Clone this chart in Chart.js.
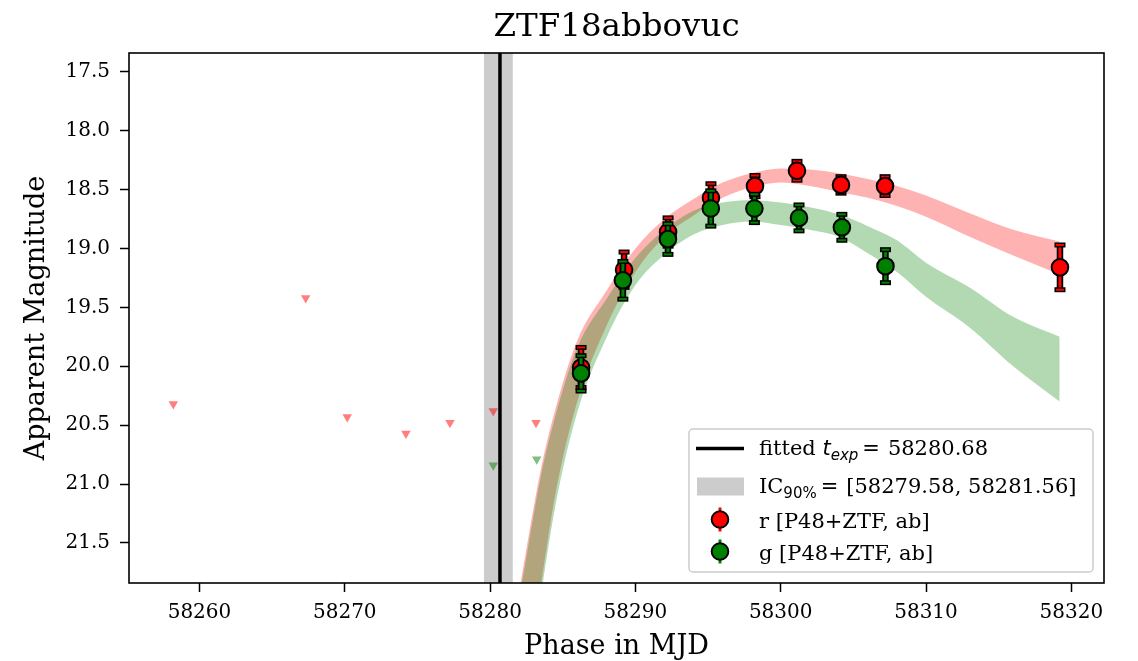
<!DOCTYPE html>
<html>
<head>
<meta charset="utf-8">
<script src="https://cdn.jsdelivr.net/npm/chart.js@4.4.1/dist/chart.umd.min.js"></script>
<style>
  html, body { margin: 0; padding: 0; background: #fff; }
  canvas { display: block; }
</style>
</head>
<body>
<canvas id="lc" width="1138" height="661"></canvas>
<script>
// axis ranges and ticks
const xRange = [58255.15, 58322.25];
const yRange = [17.34, 21.84];
const xTicks = [58260, 58270, 58280, 58290, 58300, 58310, 58320];
const yTicks = [17.5, 18.0, 18.5, 19.0, 19.5, 20.0, 20.5, 21.0, 21.5];

// explosion time fit
const tExp = 58280.68;
const tExpLow = 58279.58;
const tExpHigh = 58281.56;

// r band detections
const rTimes = [58286.26, 58289.22, 58292.25, 58295.20, 58298.23, 58301.12, 58304.15, 58307.18, 58319.22];
const rMags  = [20.01, 19.18, 18.86, 18.57, 18.47, 18.34, 18.46, 18.47, 19.16];
const rErrs  = [0.17, 0.15, 0.12, 0.12, 0.09, 0.08, 0.07, 0.08, 0.19];

// g band detections
const gTimes = [58286.26, 58289.14, 58292.24, 58295.19, 58298.19, 58301.26, 58304.21, 58307.21];
const gMags  = [20.06, 19.27, 18.92, 18.66, 18.66, 18.74, 18.82, 19.15];
const gErrs  = [0.15, 0.16, 0.13, 0.15, 0.12, 0.11, 0.11, 0.14];

// upper limits
const rLimTimes = [58258.20, 58267.31, 58270.17, 58274.21, 58277.24, 58280.22, 58283.16];
const rLimMags  = [20.32, 19.42, 20.43, 20.57, 20.48, 20.38, 20.48];
const gLimTimes = [58280.22, 58283.21];
const gLimMags  = [20.84, 20.79];

// model bands (bright edge / faint edge)
const fitTimes   = [58282.1, 58282.5, 58283.5, 58284.5, 58286, 58288, 58290, 58292, 58294, 58296, 58298, 58300, 58302, 58304, 58306, 58308, 58310, 58313, 58316, 58319.2];
const rFitBright = [21.84, 21.55, 20.87, 20.36, 19.78, 19.36, 19.00, 18.75, 18.58, 18.44, 18.36, 18.32, 18.33, 18.36, 18.41, 18.47, 18.55, 18.70, 18.84, 18.94];
const rFitFaint  = [23.00, 22.60, 21.85, 21.08, 20.30, 19.66, 19.20, 18.90, 18.72, 18.57, 18.48, 18.44, 18.47, 18.52, 18.57, 18.64, 18.73, 18.90, 19.06, 19.22];
const gFitBright = [21.90, 21.62, 20.93, 20.42, 19.84, 19.43, 19.08, 18.84, 18.68, 18.61, 18.59, 18.61, 18.65, 18.71, 18.81, 18.93, 19.12, 19.33, 19.58, 19.75];
const gFitFaint  = [23.10, 22.70, 21.94, 21.18, 20.39, 19.76, 19.31, 19.05, 18.88, 18.80, 18.77, 18.80, 18.84, 18.90, 19.04, 19.20, 19.41, 19.67, 20.00, 20.30];

const SERIF = "'DejaVu Serif', serif";
const SANS = "'DejaVu Sans', sans-serif";
Chart.defaults.font.family = SERIF;
Chart.defaults.color = '#000';

const pts = (xs, ys) => xs.map((x, i) => ({x: x, y: ys[i]}));

// grey interval + fitted explosion line
const spanPlugin = {
  id: 'texpSpan',
  beforeDatasetsDraw(chart) {
    const {ctx, chartArea: a, scales: {x}} = chart;
    const x0 = x.getPixelForValue(tExpLow);
    const x1 = x.getPixelForValue(tExpHigh);
    const xl = x.getPixelForValue(tExp);
    ctx.save();
    ctx.fillStyle = '#cccccc';
    ctx.fillRect(x0, a.top, x1 - x0, a.bottom - a.top);
    ctx.strokeStyle = '#000';
    ctx.lineWidth = 3.5;
    ctx.beginPath();
    ctx.moveTo(xl, a.top);
    ctx.lineTo(xl, a.bottom);
    ctx.stroke();
    ctx.restore();
  }
};

// error bars drawn just under each dataset's markers
const errorBarPlugin = {
  id: 'errorBars',
  beforeDatasetDraw(chart, args) {
    const ds = chart.data.datasets[args.index];
    if (!ds.errors) return;
    const {ctx, scales: {x, y}} = chart;
    const col = ds.pointBackgroundColor;
    ctx.save();
    ds.data.forEach((p, i) => {
      const px = x.getPixelForValue(p.x);
      const y0 = y.getPixelForValue(p.y - ds.errors[i]);
      const y1 = y.getPixelForValue(p.y + ds.errors[i]);
      ctx.strokeStyle = '#000';
      ctx.lineWidth = 6.5;
      ctx.beginPath(); ctx.moveTo(px, y0); ctx.lineTo(px, y1); ctx.stroke();
      ctx.strokeStyle = col;
      ctx.lineWidth = 3;
      ctx.beginPath(); ctx.moveTo(px, y0); ctx.lineTo(px, y1); ctx.stroke();
      [y0, y1].forEach(cy => {
        ctx.fillStyle = '#000';
        ctx.fillRect(px - 5.5, cy - 2.5, 11, 5);
        ctx.fillStyle = col;
        ctx.fillRect(px - 4, cy - 1, 8, 2);
      });
    });
    ctx.restore();
  }
};

// full box around the axes
const framePlugin = {
  id: 'frame',
  afterDatasetsDraw(chart) {
    const {ctx, chartArea: a} = chart;
    ctx.save();
    ctx.strokeStyle = '#000';
    ctx.lineWidth = 1.6;
    ctx.strokeRect(a.left, a.top, a.right - a.left, a.bottom - a.top);
    ctx.restore();
  }
};

function drawRuns(ctx, x, base, runs) {
  runs.forEach(r => {
    x += r.gap || 0;
    ctx.font = r.font;
    ctx.fillText(r.text, x, base + (r.dy || 0));
    x += ctx.measureText(r.text).width + (r.after || 0);
  });
}

// legend with mathtext-like labels
const legendPlugin = {
  id: 'fitLegend',
  afterDraw(chart) {
    const {ctx, chartArea: a} = chart;
    const bw = 404, bh = 143;
    const bx = a.right - 11 - bw, by = a.bottom - 11 - bh;
    const tx = bx + 70, sx = bx + 31;
    const main = '21px ' + SERIF;
    const it = 'italic 21px ' + SANS;
    const sub = 'italic 15px ' + SANS;
    const subUp = '15px ' + SANS;
    ctx.save();
    ctx.beginPath();
    ctx.roundRect(bx, by, bw, bh, 4);
    ctx.fillStyle = 'rgba(255,255,255,0.8)';
    ctx.fill();
    ctx.strokeStyle = '#cccccc';
    ctx.lineWidth = 1.5;
    ctx.stroke();

    ctx.fillStyle = '#000';
    ctx.textBaseline = 'alphabetic';
    // row 1
    ctx.strokeStyle = '#000';
    ctx.lineWidth = 3.5;
    ctx.beginPath(); ctx.moveTo(bx + 7, by + 19.5); ctx.lineTo(bx + 55, by + 19.5); ctx.stroke();
    drawRuns(ctx, tx, by + 25.5, [
      {text: 'fitted ', font: main},
      {text: 't', font: it},
      {text: 'exp', font: sub, dy: 5},
      {text: '=', font: '21px ' + SANS, gap: 4, after: 8},
      {text: tExp.toFixed(2), font: main}
    ]);
    // row 2
    ctx.fillStyle = '#cccccc';
    ctx.fillRect(bx + 8, by + 48.5, 47, 18);
    ctx.fillStyle = '#000';
    drawRuns(ctx, tx, by + 63.5, [
      {text: 'IC', font: main},
      {text: '90%', font: subUp, dy: 5},
      {text: '=', font: '21px ' + SANS, gap: 4, after: 8},
      {text: '[' + tExpLow.toFixed(2) + ', ' + tExpHigh.toFixed(2) + ']', font: main}
    ]);
    // rows 3, 4
    [['red', 'r [P48+ZTF, ab]', 90.5, 98.5], ['green', 'g [P48+ZTF, ab]', 122.5, 131]].forEach(([col, label, cy, base]) => {
      ctx.strokeStyle = col;
      ctx.lineWidth = 3;
      ctx.beginPath(); ctx.moveTo(sx, by + cy - 12); ctx.lineTo(sx, by + cy + 12); ctx.stroke();
      ctx.beginPath();
      ctx.arc(sx, by + cy, 8.3, 0, Math.PI * 2);
      ctx.fillStyle = col;
      ctx.fill();
      ctx.strokeStyle = '#000';
      ctx.lineWidth = 2;
      ctx.stroke();
      ctx.fillStyle = '#000';
      drawRuns(ctx, tx, by + base, [{text: label, font: main}]);
    });
    ctx.restore();
  }
};

function band(data, color, fill, order) {
  return {
    data: data,
    borderWidth: 0,
    borderColor: 'rgba(0,0,0,0)',
    backgroundColor: color,
    pointRadius: 0,
    fill: fill,
    cubicInterpolationMode: 'monotone',
    order: order
  };
}

function markers(data, color, errors, order) {
  return {
    data: data,
    showLine: false,
    pointStyle: 'circle',
    pointRadius: 8.3,
    pointBackgroundColor: color,
    pointBorderColor: '#000',
    pointBorderWidth: 2,
    errors: errors,
    order: order
  };
}

function limits(data, color, order) {
  return {
    data: data,
    showLine: false,
    pointStyle: 'triangle',
    rotation: 180,
    pointRadius: 5.5,
    pointBackgroundColor: color,
    pointBorderWidth: 0,
    order: order
  };
}

new Chart(document.getElementById('lc'), {
  type: 'line',
  data: {
    datasets: [
      band(pts(fitTimes, rFitBright), 'rgba(255,0,0,0.3)', '+1', 21),
      band(pts(fitTimes, rFitFaint), 'rgba(255,0,0,0.3)', false, 21),
      band(pts(fitTimes, gFitBright), 'rgba(0,128,0,0.3)', '+1', 20),
      band(pts(fitTimes, gFitFaint), 'rgba(0,128,0,0.3)', false, 20),
      limits(pts(rLimTimes, rLimMags), 'rgba(255,0,0,0.5)', 10),
      limits(pts(gLimTimes, gLimMags), 'rgba(0,128,0,0.5)', 9),
      markers(pts(rTimes, rMags), 'red', rErrs, 2),
      markers(pts(gTimes, gMags), 'green', gErrs, 1)
    ]
  },
  options: {
    responsive: false,
    animation: false,
    events: [],
    layout: {padding: {left: 0, right: 34, top: 0, bottom: 0}},
    plugins: {
      legend: {display: false},
      tooltip: {enabled: false},
      title: {
        display: true,
        fullSize: false,
        text: 'ZTF18abbovuc',
        color: '#000',
        font: {family: SERIF, size: 32.5, weight: 'normal'},
        padding: {top: 8, bottom: 6}
      }
    },
    scales: {
      x: {
        type: 'linear',
        position: 'bottom',
        min: xRange[0],
        max: xRange[1],
        afterBuildTicks: s => { s.ticks = xTicks.map(v => ({value: v})); },
        afterFit: s => { s.height = 78; },
        grid: {drawOnChartArea: false, drawTicks: true, tickLength: 9, tickWidth: 1.5, tickColor: '#000'},
        border: {display: false},
        ticks: {font: {size: 20}, color: '#000', padding: 9, maxRotation: 0, autoSkip: false,
                callback: v => String(v)},
        title: {display: true, text: 'Phase in MJD', color: '#000',
                font: {family: SERIF, size: 27}, padding: {top: 0, bottom: -2}}
      },
      y: {
        type: 'linear',
        reverse: true,
        min: yRange[0],
        max: yRange[1],
        afterBuildTicks: s => { s.ticks = yTicks.map(v => ({value: v})); },
        afterFit: s => { s.width = 129; },
        grid: {drawOnChartArea: false, drawTicks: true, tickLength: 9, tickWidth: 1.5, tickColor: '#000'},
        border: {display: false},
        ticks: {font: {size: 20}, color: '#000', padding: 10, autoSkip: false,
                callback: v => v.toFixed(1)},
        title: {display: true, text: 'Apparent Magnitude', color: '#000',
                font: {family: SERIF, size: 27}, padding: {top: 21, bottom: 0}}
      }
    }
  },
  plugins: [spanPlugin, errorBarPlugin, framePlugin, legendPlugin]
});
</script>
</body>
</html>
